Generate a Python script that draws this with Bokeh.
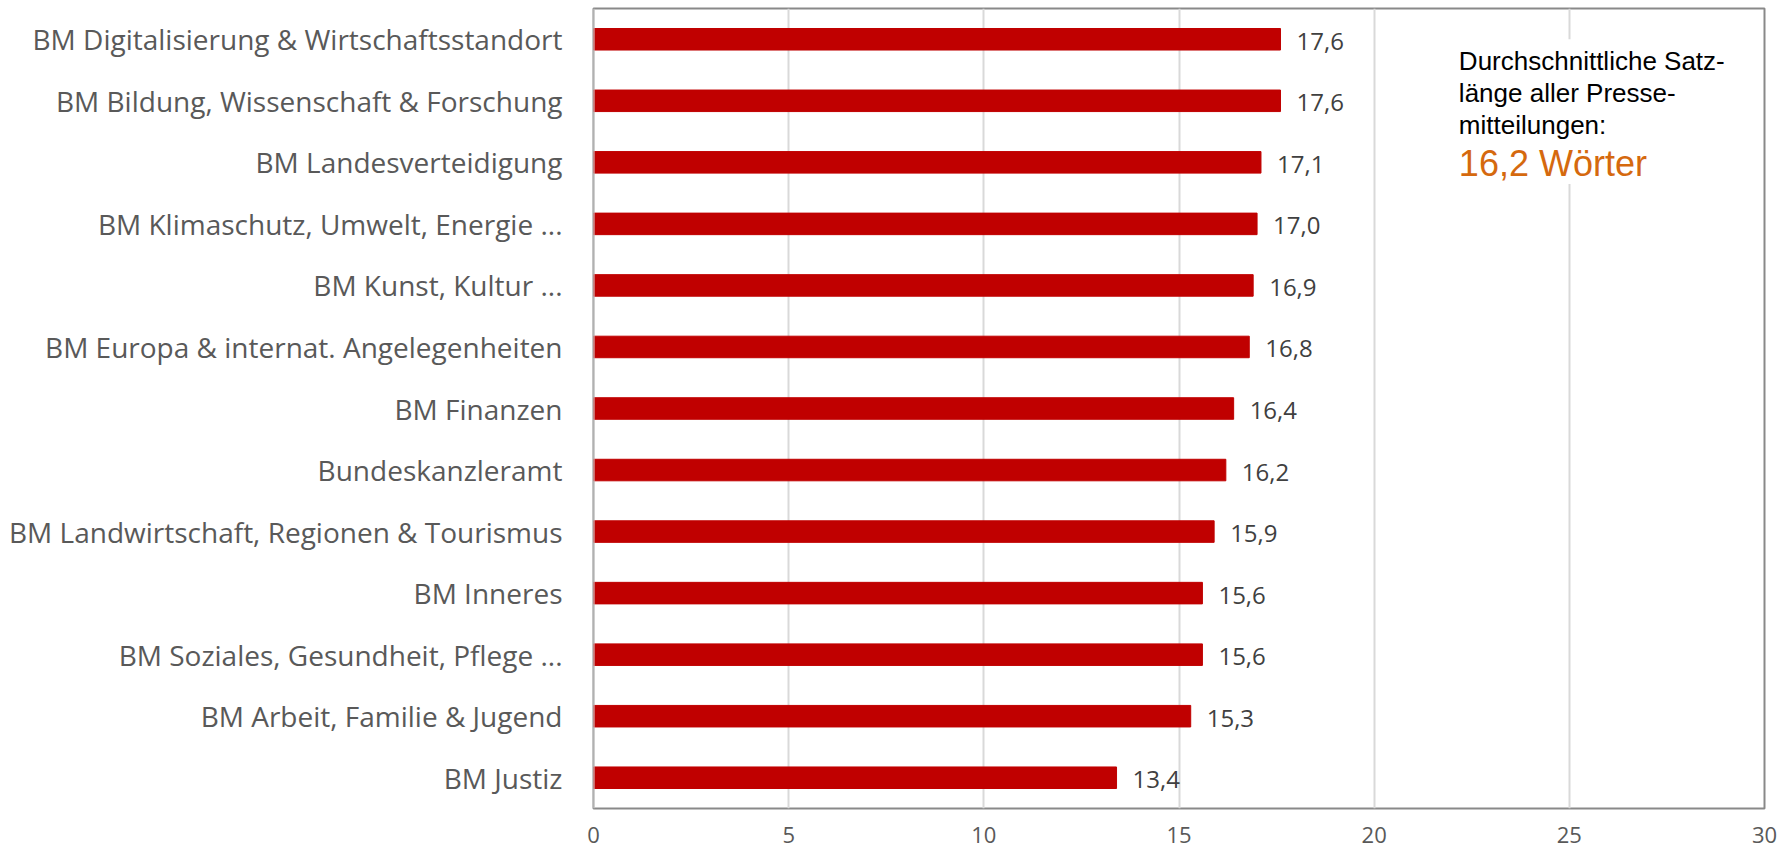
from bokeh.plotting import figure
from bokeh.models import ColumnDataSource, FactorRange, Range1d, FixedTicker, Label, Span, BoxAnnotation
from bokeh.embed import file_html
from bokeh.resources import INLINE
from bokeh.core.properties import value

categories = [
    "BM Digitalisierung & Wirtschaftsstandort",
    "BM Bildung, Wissenschaft & Forschung",
    "BM Landesverteidigung",
    "BM Klimaschutz, Umwelt, Energie ...",
    "BM Kunst, Kultur ...",
    "BM Europa & internat. Angelegenheiten",
    "BM Finanzen",
    "Bundeskanzleramt",
    "BM Landwirtschaft, Regionen & Tourismus",
    "BM Inneres",
    "BM Soziales, Gesundheit, Pflege ...",
    "BM Arbeit, Familie & Jugend",
    "BM Justiz",
]
values = [17.6, 17.6, 17.1, 17.0, 16.9, 16.8, 16.4, 16.2, 15.9, 15.6, 15.6, 15.3, 13.4]
x_ticks = [0, 5, 10, 15, 20, 25, 30]
note_lines = ["Durchschnittliche Satz-", "länge aller Presse-", "mitteilungen:"]
note_value = "16,2 Wörter"

labels = [f"{v:.1f}".replace(".", ",") for v in values]
src = ColumnDataSource(dict(cat=categories, val=values, lab=labels))

n = len(categories)
p = figure(
    width=1790, height=850,
    y_range=FactorRange(factors=list(reversed(categories)), range_padding=0),
    x_range=Range1d(0, 30),
    output_backend="svg", toolbar_location=None,
    min_border_left=593, min_border_right=26, min_border_top=8, min_border_bottom=42,
)
p.outline_line_color = "#898989"
p.outline_line_width = 2

p.hbar(y="cat", right="val", left=0, height=0.35, color="#C00000", source=src)
p.text(x="val", y="cat", text="lab", source=src, x_offset=16, y_offset=2,
       text_baseline="middle", text_align="left",
       text_font=value("Open Sans"), text_font_size="24px", text_color="#404040")

# grid
p.xgrid.ticker = FixedTicker(ticks=x_ticks)
p.xgrid.grid_line_color = "#d9d9d9"
p.xgrid.grid_line_width = 2
p.ygrid.grid_line_color = None

# axes
p.xaxis.ticker = FixedTicker(ticks=x_ticks)
p.xaxis.axis_line_color = None
p.xaxis.major_tick_line_color = None
p.xaxis.minor_tick_line_color = None
p.xaxis.major_label_text_font = "Open Sans"
p.xaxis.major_label_text_font_size = "22px"
p.xaxis.major_label_text_color = "#595959"
p.xaxis.major_label_standoff = 12

p.yaxis.axis_line_color = None
p.yaxis.major_tick_line_color = None
p.yaxis.minor_tick_line_color = None
p.yaxis.major_label_text_font = "Open Sans"
p.yaxis.major_label_text_font_size = "28px"
p.yaxis.major_label_text_color = "#595959"
p.yaxis.major_label_standoff = 25

p.add_layout(Span(location=0, dimension="height", line_color="#d9d9d9", line_width=2, level="overlay"))

# annotation box (white background behind the note)
p.add_layout(BoxAnnotation(left=21.7, right=28.4, top=12.5, bottom=10.15,
                           fill_color="white", fill_alpha=1.0, line_color=None, level="underlay"))
line_ys = [n - 0.845, n - 1.365, n - 1.885]
for t, yy in zip(note_lines, line_ys):
    p.add_layout(Label(x=22.17, y=yy, text=t, text_font="Liberation Sans", text_font_size="26px",
                       text_color="#000000", text_baseline="alphabetic"))
p.add_layout(Label(x=22.17, y=n - 2.52, text=note_value, text_font="Liberation Sans",
                   text_font_size="36px", text_color="#D5690E", text_baseline="alphabetic"))

open("out.html", "w").write(file_html(p, INLINE))
